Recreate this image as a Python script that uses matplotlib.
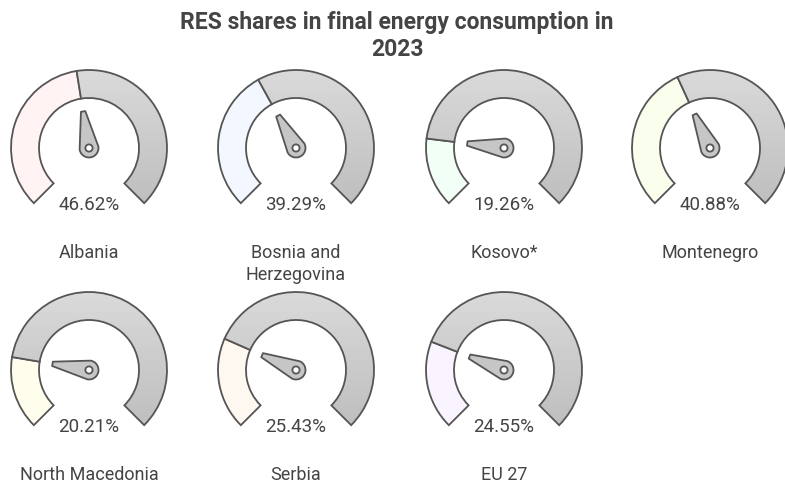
import numpy as np
import matplotlib.pyplot as plt
from matplotlib.patches import Wedge, Circle, Polygon
from matplotlib.colors import LinearSegmentedColormap

plt.rcParams['font.family'] = ['Roboto', 'DejaVu Sans']

# data
countries = ["Albania", "Bosnia and\nHerzegovina", "Kosovo*", "Montenegro",
             "North Macedonia", "Serbia", "EU 27"]
shares = [46.62, 39.29, 19.26, 40.88, 20.21, 25.43, 24.55]
fill_colors = ["#fff3f3", "#f3f7ff", "#f1fff6", "#f9ffec",
               "#fffdec", "#fff8f1", "#f9f4ff"]

# layout (pixels)
col_x = [89, 296, 504, 710]
row_y = [148, 370]
r_out, r_in = 78, 50
edge = "#555555"
text_c = "#444444"

fig = plt.figure(figsize=(7.85, 4.83), dpi=100)
ax = fig.add_axes([0, 0, 1, 1])
ax.set_xlim(0, 785)
ax.set_ylim(483, 0)
ax.set_aspect("equal")
ax.axis("off")

gray_cmap = LinearSegmentedColormap.from_list("g", ["#dadada", "#bababa"])
grad = np.linspace(0, 1, 256).reshape(-1, 1)

ax.text(397, 22, "RES shares in final energy consumption in", ha="center",
        va="center", fontsize=16.5, fontweight="bold", color=text_c)
ax.text(397, 50, "2023", ha="center", va="center", fontsize=16.5,
        fontweight="bold", color=text_c)

for i, (name, val, fc) in enumerate(zip(countries, shares, fill_colors)):
    cx = col_x[i % 4]
    cy = row_y[i // 4]
    split = 225 - val / 100 * 270
    # y axis is inverted, so screen angle a is data angle -a
    w_fill = Wedge((cx, cy), r_out, -225, -split, width=r_out - r_in,
                   facecolor=fc, edgecolor=edge, lw=1.3, zorder=2)
    ax.add_patch(w_fill)
    w_rest = Wedge((cx, cy), r_out, -split, 45, width=r_out - r_in,
                   facecolor="none", edgecolor=edge, lw=1.3, zorder=3)
    ax.add_patch(w_rest)
    im = ax.imshow(grad, cmap=gray_cmap, extent=[cx - r_out, cx + r_out,
                   cy + r_out, cy - r_out], aspect="auto", zorder=2.5)
    im.set_clip_path(w_rest)

    # needle
    th = np.deg2rad(split)
    d = np.array([np.cos(th), -np.sin(th)])
    n = np.array([-d[1], d[0]])
    L, rb, wt = 37, 9.5, 2.2
    back = np.linspace(th + np.pi / 2, th + 3 * np.pi / 2, 30)
    pts = [(cx + rb * np.cos(a), cy - rb * np.sin(a)) for a in back]
    tip = np.array([cx, cy]) + L * d
    pts.append(tuple(tip + wt * n))
    pts.append(tuple(tip - wt * n))
    ax.add_patch(Polygon(pts, closed=True, facecolor="#c6c6c6",
                         edgecolor=edge, lw=1.3, zorder=4, joinstyle="round"))
    ax.add_patch(Circle((cx, cy), 3.6, facecolor="white", edgecolor=edge,
                        lw=1.3, zorder=5))

    ax.text(cx, cy + 57, f"{val:.2f}%", ha="center", va="center",
            fontsize=13.5, color=text_c)
    for k, line in enumerate(name.split("\n")):
        ax.text(cx, cy + 105 + 22 * k, line, ha="center", va="center",
                fontsize=13, color=text_c)

fig.savefig("out.png", dpi=100)
